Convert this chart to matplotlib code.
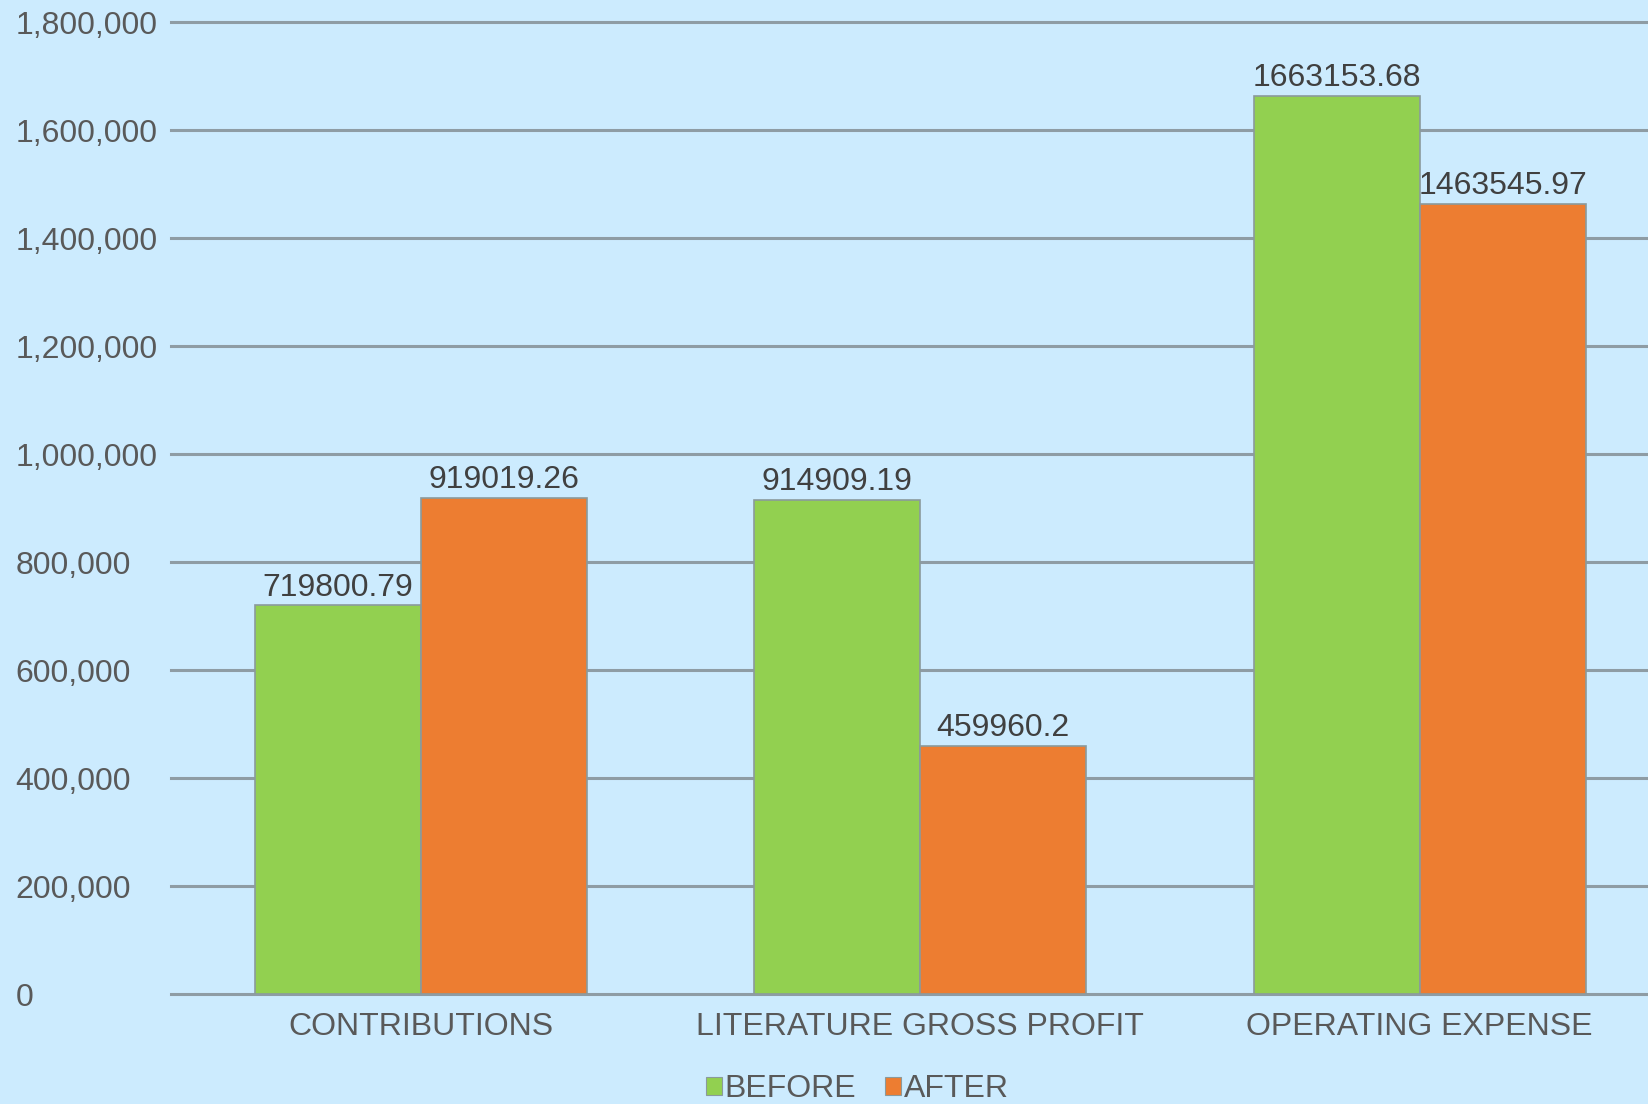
import matplotlib.pyplot as plt
from matplotlib.patches import Patch
from matplotlib.ticker import FuncFormatter
import numpy as np

categories = ['CONTRIBUTIONS', 'LITERATURE GROSS PROFIT', 'OPERATING EXPENSE']
before = [719800.79, 914909.19, 1663153.68]
after = [919019.26, 459960.2, 1463545.97]
before_labels = ['719800.79', '914909.19', '1663153.68']
after_labels = ['919019.26', '459960.2', '1463545.97']
yticks = [0, 200000, 400000, 600000, 800000, 1000000, 1200000, 1400000, 1600000, 1800000]

bg = '#CCEBFE'
green = '#92D050'
orange = '#ED7D31'
grid_c = '#8E9CA4'
edge_c = '#8A9A9C'
text_c = '#595959'
fs = 23

plt.rcParams['font.family'] = ['Liberation Sans', 'DejaVu Sans']

fig = plt.figure(figsize=(16.49, 11.04), dpi=100)
fig.patch.set_facecolor(bg)
ax = fig.add_axes([0.1037, 0.0996, 0.9087, 0.8804])
ax.set_facecolor(bg)

x = np.arange(len(categories))
w = 0.332
b1 = ax.bar(x - w / 2, before, w, color=green, edgecolor=edge_c, linewidth=1.2, zorder=3)
b2 = ax.bar(x + w / 2, after, w, color=orange, edgecolor=edge_c, linewidth=1.2, zorder=3)

# value labels on top of each bar
for bars, labels in ((b1, before_labels), (b2, after_labels)):
    for rect, lab in zip(bars, labels):
        ax.annotate(lab, (rect.get_x() + rect.get_width() / 2, rect.get_height()),
                    xytext=(0, 2), textcoords='offset points', ha='center', va='bottom',
                    fontsize=fs, color='#404040', zorder=4)

ax.set_xlim(-0.5, 2.5)
ax.set_ylim(0, 1800000)
ax.set_yticks(yticks)
ax.yaxis.set_major_formatter(FuncFormatter(lambda v, p: f'{int(v):,}'))
ax.grid(axis='y', color=grid_c, linewidth=2.2, zorder=1)
for gl in ax.get_ygridlines():
    gl.set_clip_on(False)
ax.set_axisbelow(True)
for s in ax.spines.values():
    s.set_visible(False)

ax.tick_params(axis='y', length=0, pad=112, labelsize=fs, labelcolor=text_c)
for t in ax.get_yticklabels():
    t.set_horizontalalignment('left')
ax.set_xticks(x)
ax.set_xticklabels(categories)
ax.tick_params(axis='x', length=0, pad=13, labelsize=fs, labelcolor=text_c)

handles = [Patch(facecolor=green, edgecolor=edge_c, linewidth=0.8),
           Patch(facecolor=orange, edgecolor=edge_c, linewidth=0.8)]
fig.legend(handles, ['BEFORE', 'AFTER'], loc='center', bbox_to_anchor=(0.52, 0.0136),
           ncol=2, frameon=False, fontsize=fs, labelcolor=text_c,
           handlelength=0.5, handleheight=0.5, handletextpad=0.1, columnspacing=0.9,
           borderpad=0)

fig.savefig('out.png', dpi=100, facecolor=bg)
